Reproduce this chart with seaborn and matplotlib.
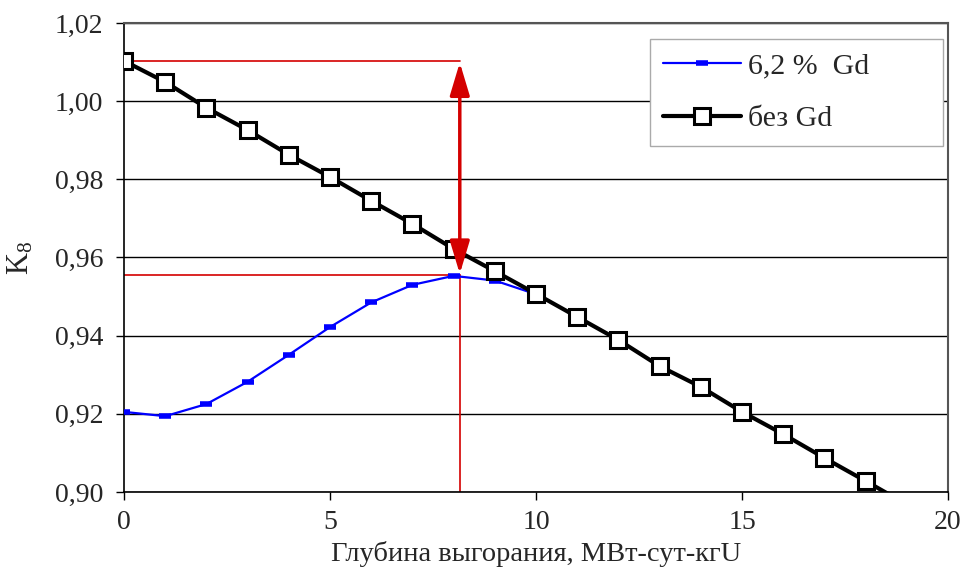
import matplotlib
matplotlib.use("Agg")
import matplotlib.pyplot as plt
import seaborn as sns
import pandas as pd

# Burnup points, MW*day/kgU
burnup = [0, 1, 2, 3, 4, 5, 6, 7, 8, 9, 10, 11, 12, 13, 14, 15, 16, 17, 18]
burnup_no_gd = burnup + [19]

# K8 values
k_gd = [0.9205, 0.9194, 0.9225, 0.9282, 0.9351, 0.9422, 0.9485, 0.9530, 0.9553,
        0.9541, 0.9506, 0.9448, 0.9389, 0.9322, 0.9269, 0.9205, 0.9148, 0.9087, 0.9028]
k_no_gd = [1.0103, 1.0049, 0.9983, 0.9926, 0.9863, 0.9806, 0.9745, 0.9686, 0.9622,
           0.9565, 0.9507, 0.9448, 0.9389, 0.9322, 0.9269, 0.9205, 0.9148, 0.9087, 0.9028,
           0.8968]

# reactivity reserve marker
peak_burnup = 8.15
peak_k = 0.9555
start_k = 1.0103

y_ticks = [0.90, 0.92, 0.94, 0.96, 0.98, 1.00, 1.02]
y_tick_labels = ["0,90", "0,92", "0,94", "0,96", "0,98", "1,00", "1,02"]
x_ticks = [0, 5, 10, 15, 20]

label_gd = "6,2 %  Gd"
label_no_gd = "без Gd"

sns.set_style("white")
plt.rcParams["font.family"] = ["Liberation Serif", "DejaVu Serif"]
plt.rcParams["mathtext.fontset"] = "custom"
plt.rcParams["mathtext.rm"] = "Liberation Serif"
plt.rcParams["mathtext.it"] = "Liberation Serif"

df_gd = pd.DataFrame({"x": burnup, "k": k_gd})
df_no = pd.DataFrame({"x": burnup_no_gd, "k": k_no_gd})

fig = plt.figure(figsize=(9.65, 5.78), dpi=100)
ax = fig.add_axes([0.1285, 0.1488, 0.8539, 0.8114])

red = "#d40000"
# red guide lines
ax.plot([0, peak_burnup], [start_k, start_k], color=red, lw=1.2, zorder=2)
ax.plot([0, peak_burnup], [peak_k, peak_k], color=red, lw=1.2, zorder=2)
ax.plot([peak_burnup, peak_burnup], [0.90, peak_k], color=red, lw=1.2, zorder=2)

sns.lineplot(data=df_gd, x="x", y="k", ax=ax, color="#0000ff", lw=1.6,
             marker="_", markersize=9, markeredgewidth=4, markeredgecolor="#0000ff",
             label=label_gd, zorder=3)
sns.lineplot(data=df_no, x="x", y="k", ax=ax, color="black", lw=3.0,
             marker="s", markersize=11, markeredgewidth=2.2, markerfacecolor="white",
             markeredgecolor="black", label=label_no_gd, zorder=4)

ax.annotate("", xy=(peak_burnup, start_k - 0.0004), xytext=(peak_burnup, peak_k + 0.0003),
            arrowprops=dict(arrowstyle="<|-|>,head_length=0.5,head_width=0.15", color=red,
                            lw=2.5, mutation_scale=40, shrinkA=0, shrinkB=0), zorder=5)

ax.set_xlim(0, 20)
ax.set_ylim(0.90, 1.02)
ax.set_xticks(x_ticks)
ax.set_yticks(y_ticks)
ax.set_yticklabels(y_tick_labels)
ax.yaxis.grid(True, color="black", lw=1.0)
ax.set_axisbelow(True)
ax.tick_params(axis="both", labelsize=20, direction="out", length=6, width=1,
               color="black", left=True, bottom=True)
ax.tick_params(axis="y", pad=9)
ax.tick_params(axis="x", pad=7)

for side in ["left", "bottom"]:
    ax.spines[side].set_color("black")
    ax.spines[side].set_linewidth(1.2)
for side in ["top", "right"]:
    ax.spines[side].set_color("#555555")
    ax.spines[side].set_linewidth(1.5)

ax.set_xlabel("Глубина выгорания, МВт-сут-кгU", fontsize=20.5, labelpad=4)
ax.set_ylabel("K$_{8}$", fontsize=22, labelpad=14)

leg = ax.legend(loc="upper left", bbox_to_anchor=(0.638, 0.966, 0.356, 0.0), mode="expand",
                fontsize=21.5, frameon=True, fancybox=False, edgecolor="#aaaaaa",
                framealpha=1, handlelength=2.6, borderpad=0.45, labelspacing=0.88,
                handletextpad=0.25, borderaxespad=0)
leg.get_frame().set_linewidth(1.0)

fig.savefig("out.png", dpi=100)
